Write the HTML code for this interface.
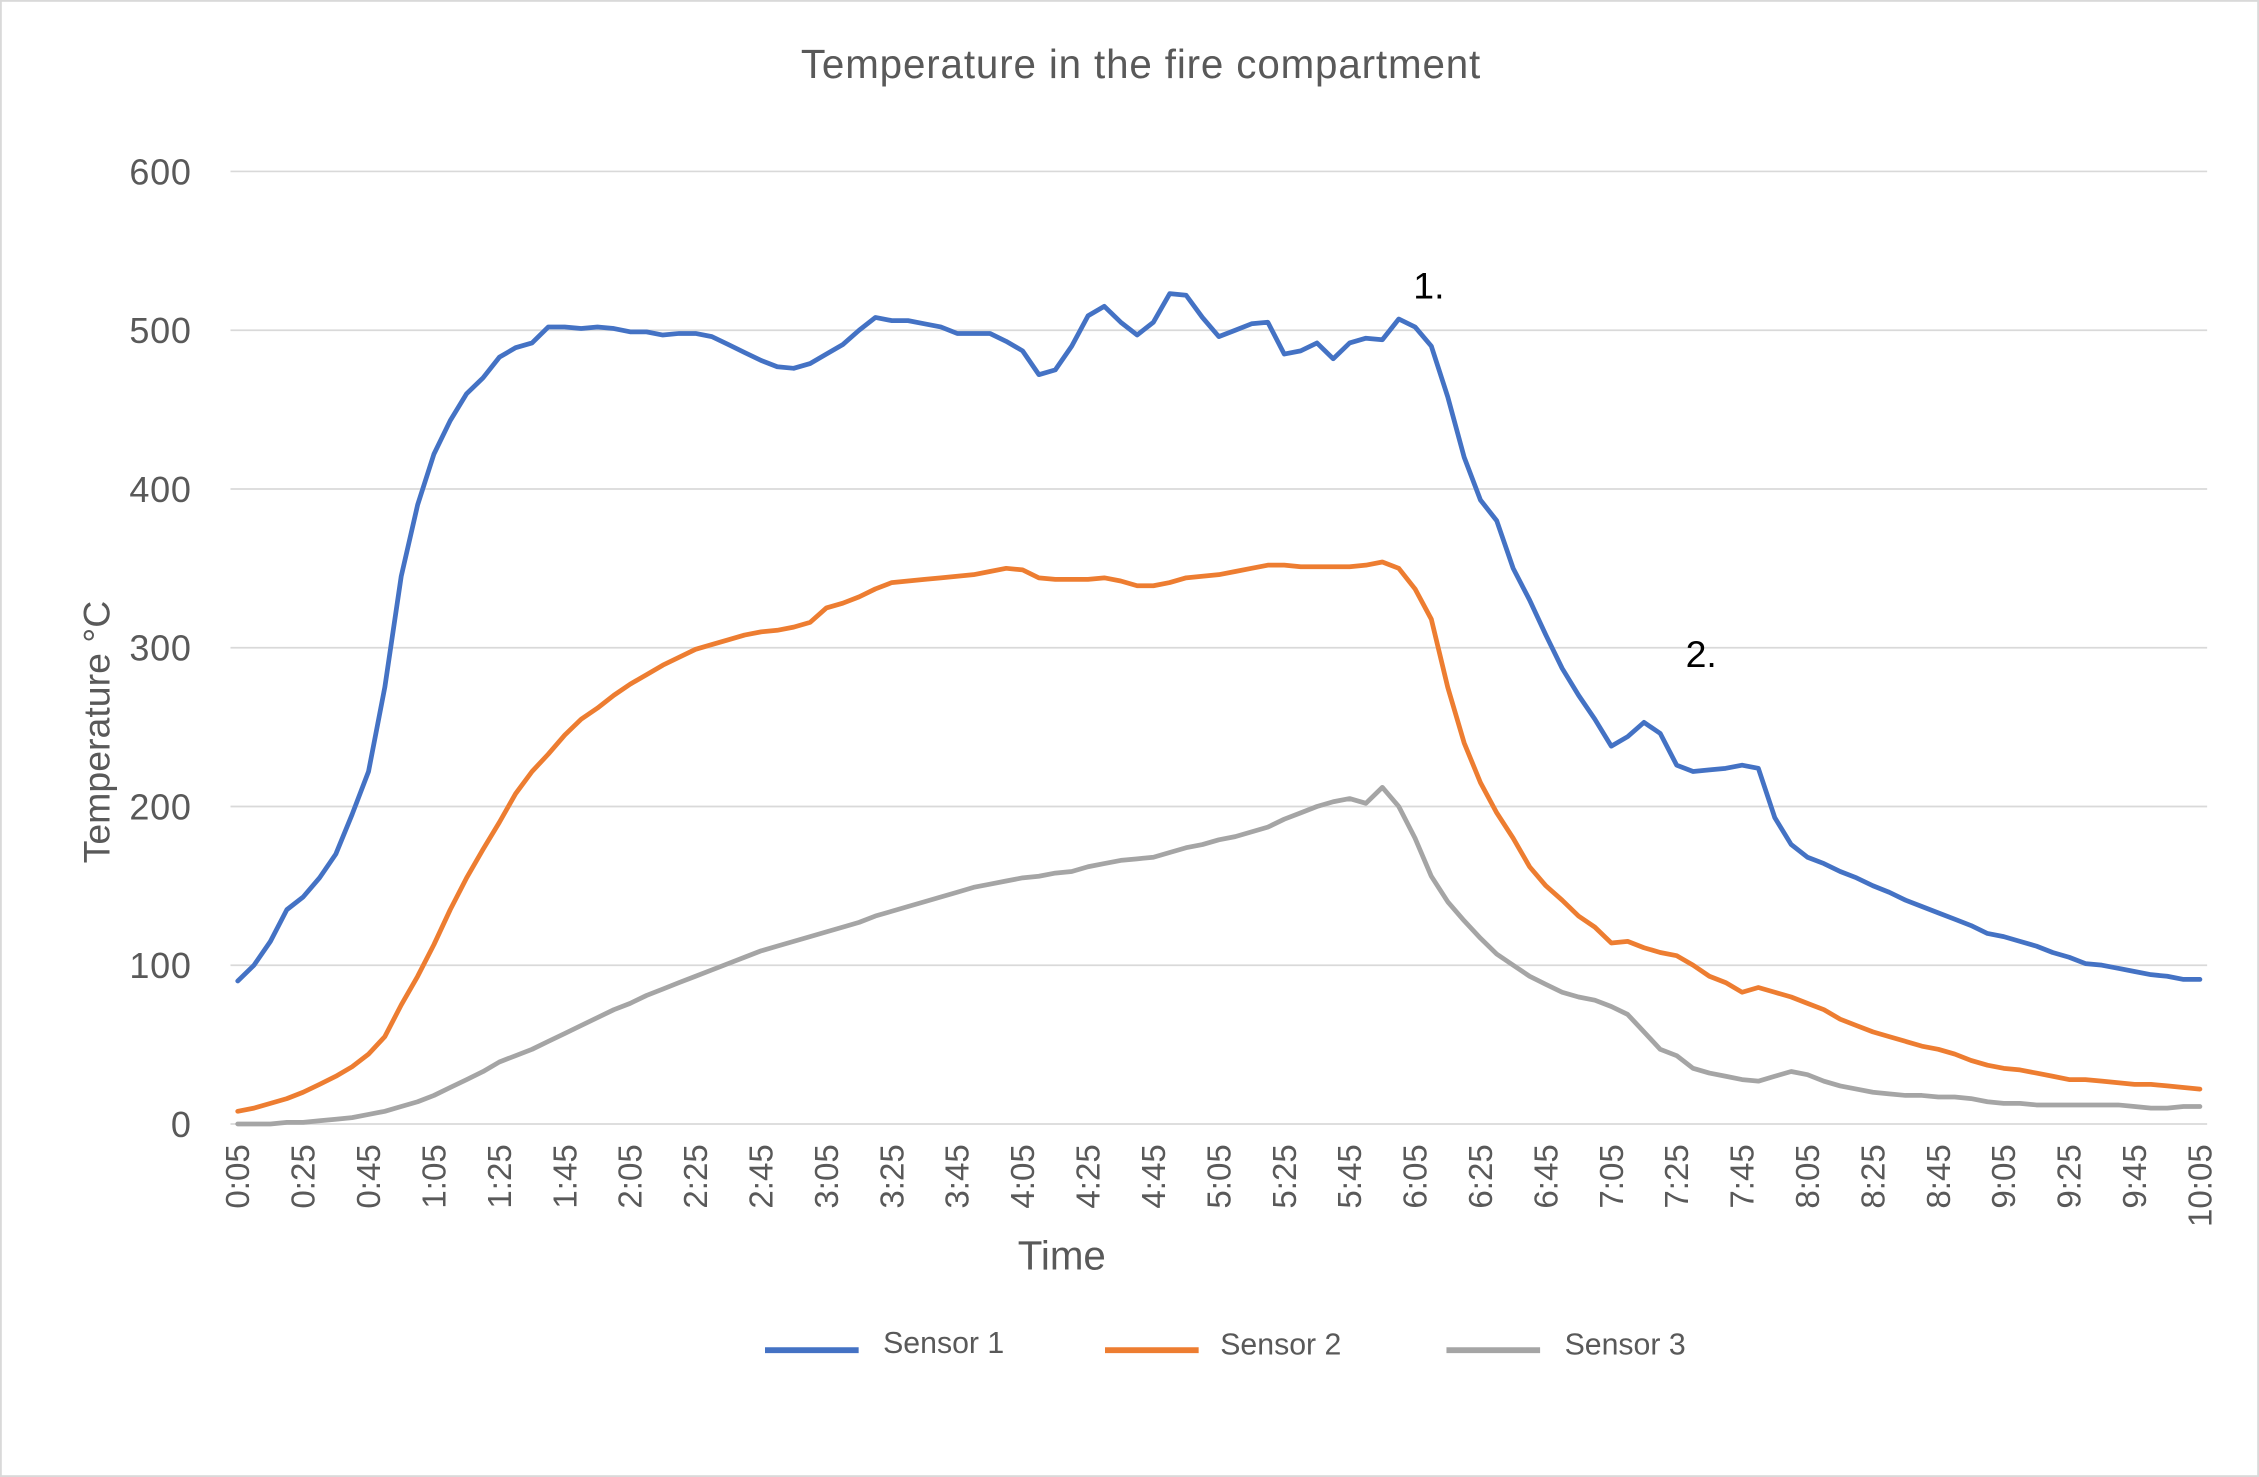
<!DOCTYPE html>
<html><head><meta charset="utf-8"><style>
html,body{margin:0;padding:0;background:#fff;}
svg{display:block;}
text{font-family:"Liberation Sans",sans-serif;}
</style></head><body>
<svg id="c" width="2259" height="1477" viewBox="0 0 1568 1025" preserveAspectRatio="none" xmlns="http://www.w3.org/2000/svg">
<rect x="0.5" y="0.5" width="1567" height="1024" fill="#fff" stroke="#d9d9d9" stroke-width="1.5"/>
<text x="792" y="54" font-size="28" letter-spacing="0.6" fill="#595959" text-anchor="middle">Temperature in the fire compartment</text>
<g id="grid"></g>
<g id="ylab" font-size="25" fill="#595959" text-anchor="end" letter-spacing="0.5"></g>
<g id="xlab" font-size="23" fill="#595959" text-anchor="end"></g>
<text transform="translate(76,508) rotate(-90)" font-size="26" fill="#595959" text-anchor="middle">Temperature °C</text>
<text x="737" y="881" font-size="28" fill="#595959" text-anchor="middle">Time</text>
<g id="series"></g>
<text x="981" y="207" font-size="26" fill="#000">1.</text>
<text x="1170" y="463" font-size="26" fill="#000">2.</text>
<g font-size="21" fill="#595959">
<line x1="531" y1="937" x2="596" y2="937" stroke="#4472c4" stroke-width="4"/>
<text x="613" y="939">Sensor 1</text>
<line x1="767" y1="937" x2="832" y2="937" stroke="#ed7d31" stroke-width="4"/>
<text x="847" y="940">Sensor 2</text>
<line x1="1004" y1="937" x2="1069" y2="937" stroke="#a5a5a5" stroke-width="4"/>
<text x="1086" y="940">Sensor 3</text>
</g>
</svg>
<script>
var NS="http://www.w3.org/2000/svg";
function el(t,a,p,txt){var e=document.createElementNS(NS,t);for(var k in a)e.setAttribute(k,a[k]);if(txt!==undefined)e.textContent=txt;document.getElementById(p).appendChild(e);return e;}
function Y(v){return 780-v*1.1017;}
var x0=165,dx=(1527-165)/120;
for(var v=0;v<=600;v+=100){var y=Y(v);el('line',{x1:160,x2:1532,y1:y,y2:y,stroke:'#d9d9d9','stroke-width':1.2},'grid');el('text',{x:133,y:y+9},'ylab',String(v));}
for(var i=0;i<=120;i+=4){var s=5+5*i,m=Math.floor(s/60),ss=s%60;var lab=m+':'+(ss<10?'0':'')+ss;var x=x0+i*dx+8;el('text',{transform:'translate('+x+',794) rotate(-90)'},'xlab',lab);}
var s1=[90,100,115,135,143,155,170,195,222,275,345,390,422,443,460,470,483,489,492,502,502,501,502,501,499,499,497,498,498,496,491,486,481,477,476,479,485,491,500,508,506,506,504,502,498,498,498,493,487,472,475,490,509,515,505,497,505,523,522,508,496,500,504,505,485,487,492,482,492,495,494,507,502,490,458,420,393,380,350,330,308,287,270,255,238,244,253,246,226,222,223,224,226,224,193,176,168,164,159,155,150,146,141,137,133,129,125,120,118,115,112,108,105,101,100,98,96,94,93,91,91];
var s2=[8,10,13,16,20,25,30,36,44,55,75,93,113,135,155,173,190,208,222,233,245,255,262,270,277,283,289,294,299,302,305,308,310,311,313,316,325,328,332,337,341,342,343,344,345,346,348,350,349,344,343,343,343,344,342,339,339,341,344,345,346,348,350,352,352,351,351,351,351,352,354,350,337,318,275,240,215,196,180,162,150,141,131,124,114,115,111,108,106,100,93,89,83,86,83,80,76,72,66,62,58,55,52,49,47,44,40,37,35,34,32,30,28,28,27,26,25,25,24,23,22];
var s3=[0,0,0,1,1,2,3,4,6,8,11,14,18,23,28,33,39,43,47,52,57,62,67,72,76,81,85,89,93,97,101,105,109,112,115,118,121,124,127,131,134,137,140,143,146,149,151,153,155,156,158,159,162,164,166,167,168,171,174,176,179,181,184,187,192,196,200,203,205,202,212,200,180,156,140,128,117,107,100,93,88,83,80,78,74,69,58,47,43,35,32,30,28,27,30,33,31,27,24,22,20,19,18,18,17,17,16,14,13,13,12,12,12,12,12,12,11,10,10,11,11];
[[s3,'#a5a5a5'],[s2,'#ed7d31'],[s1,'#4472c4']].forEach(function(p){var d='';p[0].forEach(function(v,i){d+=(i?'L':'M')+(x0+i*dx).toFixed(1)+','+Y(v).toFixed(1);});el('path',{d:d,fill:'none',stroke:p[1],'stroke-width':3.3,'stroke-linejoin':'round','stroke-linecap':'round'},'series');});
</script>
</body></html>
